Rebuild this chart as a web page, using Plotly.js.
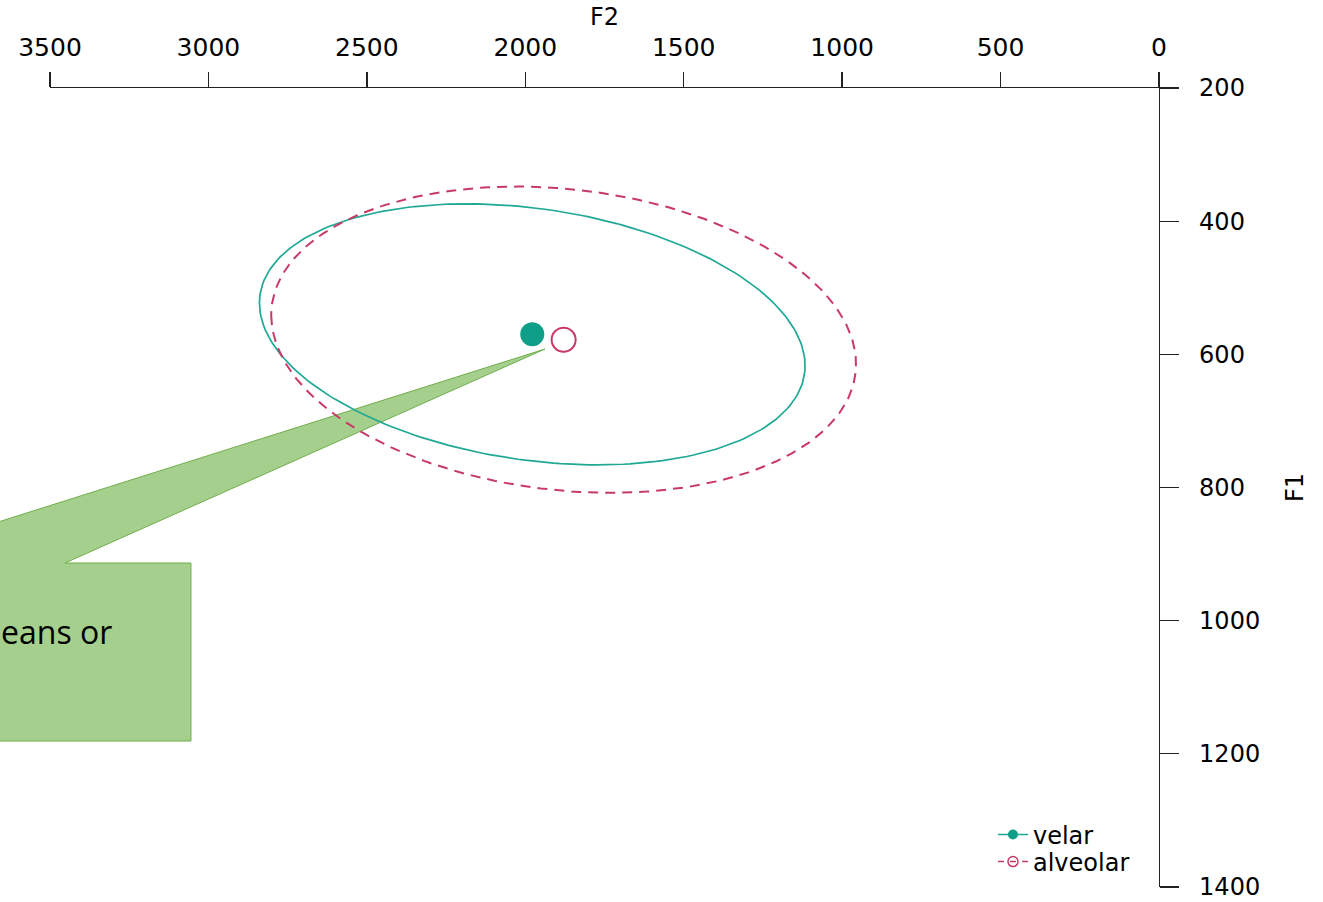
<!DOCTYPE html>
<html>
<head>
<meta charset="utf-8">
<script src="https://cdn.plot.ly/plotly-3.0.1.min.js"></script>
<style>
  html, body { margin: 0; padding: 0; background: #ffffff; }
  #chart { width: 1323px; height: 902px; }
</style>
</head>
<body>
<div id="chart"></div>
<script>
// ---- data ----
const categories = ['velar', 'alveolar'];
const meanF2 = [1978, 1879];          // Hz
const meanF1 = [570, 578];            // Hz
const ellipseRadiusF2 = [861, 923];   // half-extent along F2
const ellipseRadiusF1 = [196, 230];   // half-extent along F1
const ellipseCorr = [-0.24, -0.16];   // F2/F1 correlation of the ellipse
const xTickValues = [0, 500, 1000, 1500, 2000, 2500, 3000, 3500];
const yTickValues = [200, 400, 600, 800, 1000, 1200, 1400];
const calloutText = 'eans or';

// ---- styles ----
const lineColors = ['#1fa894', '#c83a66'];
const markerColors = ['#0f9e88', '#c83a66'];
const lineDash = ['solid', '10px,7px'];
const lineWidths = [1.7, 2];

function ellipsePoints(i) {
  const xs = [], ys = [];
  const n = 240;
  const r = ellipseCorr[i];
  const s = Math.sqrt(1 - r * r);
  for (let k = 0; k <= n; k++) {
    const t = 2 * Math.PI * k / n;
    xs.push(meanF2[i] + ellipseRadiusF2[i] * Math.cos(t));
    ys.push(meanF1[i] + ellipseRadiusF1[i] * (r * Math.cos(t) + s * Math.sin(t)));
  }
  return {xs, ys};
}

const traces = [];
categories.forEach((cat, i) => {
  const e = ellipsePoints(i);
  traces.push({
    type: 'scatter', mode: 'lines', x: e.xs, y: e.ys,
    line: {color: lineColors[i], width: lineWidths[i], dash: lineDash[i]},
    showlegend: false, hoverinfo: 'skip'
  });
});
categories.forEach((cat, i) => {
  traces.push({
    type: 'scatter', mode: 'markers', x: [meanF2[i]], y: [meanF1[i]],
    marker: i === 0
      ? {symbol: 'circle', size: 24, color: markerColors[i], line: {width: 0}}
      : {symbol: 'circle-open', size: 24, color: markerColors[i], line: {width: 2}},
    showlegend: false, name: cat
  });
});
// legend entries (one legend per entry so spacing matches)
categories.forEach((cat, i) => {
  traces.push({
    type: 'scatter', mode: 'lines+markers', x: [null], y: [null], name: cat,
    legend: i === 0 ? 'legend' : 'legend2',
    line: {color: lineColors[i], width: 1.5, dash: i === 0 ? 'solid' : '6px,6px'},
    marker: i === 0
      ? {symbol: 'circle', size: 10, color: markerColors[i]}
      : {symbol: 'circle-open', size: 10, color: markerColors[i], line: {width: 1.5}},
    showlegend: true
  });
});

// callout polygon in paper coordinates
const L = 50, W = 1109, T = 88, H = 799;
function px(x) { return +((x - L) / W).toFixed(4); }
function py(y) { return +((T + H - y) / H).toFixed(4); }
const calloutPath =
  'M' + px(-5) + ',' + py(523) +
  ' L' + px(545) + ',' + py(349) +
  ' L' + px(65) + ',' + py(563) +
  ' L' + px(191) + ',' + py(563) +
  ' L' + px(191) + ',' + py(741) +
  ' L' + px(-5) + ',' + py(741) + ' Z';

const xTickFont = {family: 'DejaVu Sans, sans-serif', size: 25, color: '#000'};
const yTickFont = {family: 'DejaVu Sans, sans-serif', size: 24, color: '#000'};
const titleFont = {family: 'DejaVu Sans, sans-serif', size: 24, color: '#000'};
const legendFont = {family: 'DejaVu Sans, sans-serif', size: 24, color: '#000'};

const layout = {
  width: 1323, height: 902,
  margin: {l: 50, r: 164, t: 88, b: 15},
  paper_bgcolor: '#ffffff', plot_bgcolor: '#ffffff',
  showlegend: true,
  xaxis: {
    side: 'top', range: [3500, 0], autorange: false,
    tickmode: 'array', tickvals: xTickValues, ticktext: xTickValues.map(String),
    ticks: 'outside', ticklen: 15, tickwidth: 1.3, tickcolor: '#222',
    showline: true, linecolor: '#222', linewidth: 1.3,
    showgrid: false, zeroline: false,
    tickfont: xTickFont, ticklabelstandoff: 6, ticklabeloverflow: 'allow',
    title: {text: 'F2', font: titleFont, standoff: 0},
    automargin: false
  },
  yaxis: {
    side: 'right', range: [1400, 200], autorange: false,
    tickmode: 'array', tickvals: yTickValues, ticktext: yTickValues.map(String),
    ticks: 'outside', ticklen: 19, tickwidth: 1.3, tickcolor: '#222',
    showline: true, linecolor: '#222', linewidth: 1.3,
    showgrid: false, zeroline: false,
    tickfont: yTickFont, ticklabelstandoff: 15, ticklabeloverflow: 'allow',
    title: {text: 'F1', font: titleFont, standoff: 27},
    automargin: false
  },
  legend: {
    x: px(993), xanchor: 'left', y: py(835), yanchor: 'middle',
    bgcolor: 'rgba(0,0,0,0)', borderwidth: 0, font: legendFont
  },
  legend2: {
    x: px(993), xanchor: 'left', y: py(862), yanchor: 'middle',
    bgcolor: 'rgba(0,0,0,0)', borderwidth: 0, font: legendFont
  },
  shapes: [{
    type: 'path', xref: 'paper', yref: 'paper', path: calloutPath,
    fillcolor: '#a5cf8c', line: {color: '#6fae4c', width: 1}, layer: 'below'
  }],
  annotations: [{
    xref: 'paper', yref: 'paper', x: px(-1), y: py(631),
    xanchor: 'left', yanchor: 'middle', showarrow: false,
    text: calloutText,
    font: {family: 'Open Sans, sans-serif', size: 32, color: '#000'}
  }]
};

Plotly.newPlot('chart', traces, layout, {displayModeBar: false, staticPlot: true});
</script>
</body>
</html>
